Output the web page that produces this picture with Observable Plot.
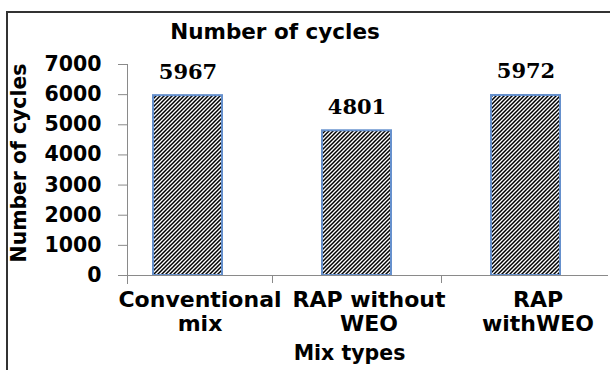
<!DOCTYPE html>
<html>
<head>
<meta charset="utf-8">
<script src="https://cdn.jsdelivr.net/npm/d3@7"></script>
<script src="https://cdn.jsdelivr.net/npm/@observablehq/plot@0.6"></script>
<style>
  html, body { margin: 0; padding: 0; background: #fff; }
</style>
</head>
<body>
<div id="chart"></div>
<script>
// Fatigue life of the three mixes
const categories = ["Conventional mix", "RAP without WEO", "RAP withWEO"];
const tickLabels = ["Conventional\nmix", "RAP without\nWEO", "RAP\nwithWEO"];
const cycles = [5967, 4801, 5972];
const yTicks = [0, 1000, 2000, 3000, 4000, 5000, 6000, 7000];

const rows = categories.map((c, i) => ({mix: c, label: tickLabels[i], cycles: cycles[i]}));

const axisGray = "#8a8a8a";
const sans = "DejaVu Sans";

// diagonal hatch fill for the bars, plus the chart border
const decorations = () => {
  const g = d3.create("svg:g");
  const p = g.append("defs").append("pattern")
    .attr("id", "hatch")
    .attr("patternUnits", "userSpaceOnUse")
    .attr("width", 4).attr("height", 4);
  p.append("rect").attr("width", 4).attr("height", 4).attr("fill", "#fff");
  p.append("path")
    .attr("d", "M-1,1 l2,-2 M0,4 l4,-4 M3,5 l2,-2")
    .attr("stroke", "#000").attr("stroke-width", 1.5);
  g.append("path")
    .attr("d", "M7,370 V12 H610")
    .attr("fill", "none")
    .attr("stroke", "#333")
    .attr("stroke-width", 2);
  return g.node();
};

const chart = Plot.plot({
  width: 610,
  height: 370,
  marginLeft: 127,
  marginRight: 2,
  marginTop: 64,
  marginBottom: 95,
  style: {fontFamily: sans, fontWeight: "bold", color: "#000", background: "#fff", overflow: "visible"},
  x: {domain: categories, range: [103, 610], paddingInner: 0.592, paddingOuter: 0.296, align: 0.5, axis: null},
  y: {domain: [0, 7000], axis: null},
  marks: [
    decorations,
    Plot.barY(rows, {x: "mix", y: "cycles", fill: "url(#hatch)", stroke: "#6590cd", strokeWidth: 2}),
    // y axis line and ticks
    Plot.frame({anchor: "left", stroke: axisGray, insetBottom: -8}),
    Plot.axisY({ticks: yTicks, tickSize: 9, tickPadding: 17, tickFormat: d3.format("d"),
      stroke: axisGray, fill: "#000", fontSize: 20.5, fontWeight: "bold", label: null}),
    // x axis line and category boundary ticks
    Plot.ruleY([0], {stroke: axisGray}),
    Plot.ruleX(rows, {x: "mix", y1: 0, y2: 0, insetBottom: -8, dx: 84.5, stroke: axisGray}),
    Plot.text(rows, {x: "mix", text: "label", frameAnchor: "bottom", lineAnchor: "top",
      lineHeight: 1.09, dy: 14, dx: 12, fontSize: 22, fontWeight: "bold", fill: "#000"}),
    // value labels
    Plot.text(rows, {x: "mix", y: "cycles", text: d => String(d.cycles), lineAnchor: "bottom", dy: -17,
      fontFamily: "DejaVu Serif", fontSize: 21, fontWeight: "bold", fill: "#000"}),
    // titles
    Plot.text(["Number of cycles"], {text: d => d, frameAnchor: "top", textAnchor: "middle", lineAnchor: "bottom",
      dx: -93, dy: -25.5, fontSize: 21.5, fontWeight: "bold", fill: "#000"}),
    Plot.text(["Number of cycles"], {text: d => d, frameAnchor: "left", textAnchor: "middle", rotate: -90,
      lineAnchor: "bottom", dx: -102, dy: -7, fontSize: 20.4, fontWeight: "bold", fill: "#000"}),
    Plot.text(["Mix types"], {text: d => d, frameAnchor: "bottom", textAnchor: "middle", lineAnchor: "bottom",
      dx: -18.5, dy: 84.5, fontSize: 20.5, fontWeight: "bold", fill: "#000"})
  ]
});

document.getElementById("chart").appendChild(chart);
</script>
</body>
</html>
